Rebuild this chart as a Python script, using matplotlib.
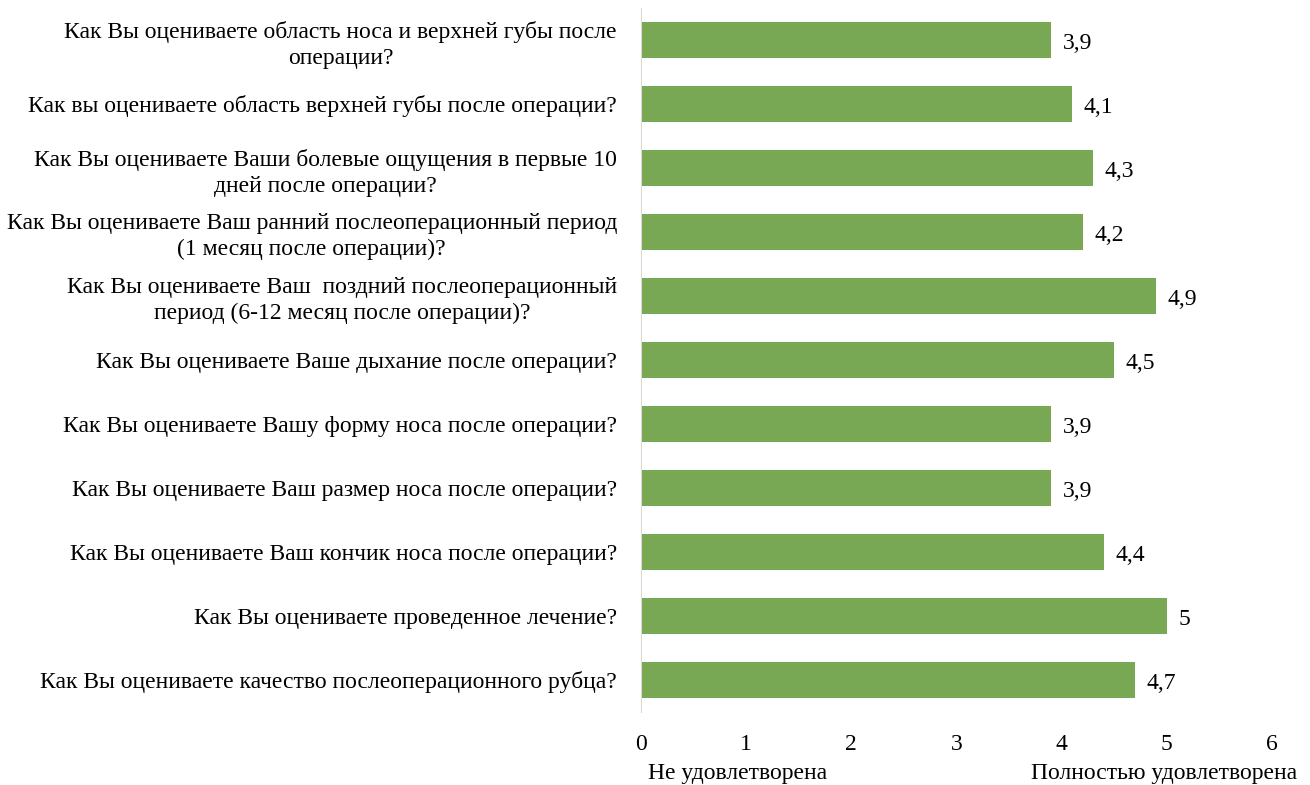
import matplotlib
matplotlib.use("Agg")
import matplotlib.pyplot as plt

plt.rcParams['font.family'] = ['Liberation Serif', 'DejaVu Serif']

questions = [
    "Как Вы оцениваете область носа и верхней губы после\nоперации?",
    "Как вы оцениваете область верхней губы после операции?",
    "Как Вы оцениваете Ваши болевые ощущения в первые 10\nдней после операции?",
    "Как Вы оцениваете Ваш ранний послеоперационный период\n(1 месяц после операции)?",
    "Как Вы оцениваете Ваш  поздний послеоперационный\nпериод (6-12 месяц после операции)?",
    "Как Вы оцениваете Ваше дыхание после операции?",
    "Как Вы оцениваете Вашу форму носа после операции?",
    "Как Вы оцениваете Ваш размер носа после операции?",
    "Как Вы оцениваете Ваш кончик носа после операции?",
    "Как Вы оцениваете проведенное лечение?",
    "Как Вы оцениваете качество послеоперационного рубца?",
]
scores = [3.9, 4.1, 4.3, 4.2, 4.9, 4.5, 3.9, 3.9, 4.4, 5.0, 4.7]
ticks = [0, 1, 2, 3, 4, 5, 6]

fig = plt.figure(figsize=(13.1, 7.85), dpi=100)
ax = fig.add_axes([0.489, 0.093, 0.482, 0.897])

pos = list(range(len(questions)))
ax.barh(pos, scores, height=0.56, color='#79a855')
ax.set_ylim(len(questions) - 0.5, -0.5)
ax.set_xlim(0, 6)

for p, s in zip(pos, scores):
    lbl = f"{s:g}".replace('.', ',')
    ax.text(s + 0.11, p + 0.06, lbl, va='center', ha='left', fontsize=17)

ax.set_yticks(pos)
ax.set_yticklabels(questions, fontsize=17, multialignment='center', linespacing=1.3)
ax.set_xticks(ticks)
ax.set_xticklabels([str(t) for t in ticks], fontsize=17)
ax.tick_params(axis='both', length=0)
ax.tick_params(axis='y', pad=17)
ax.tick_params(axis='x', pad=16)

for side in ['top', 'right', 'bottom']:
    ax.spines[side].set_visible(False)
ax.spines['left'].set_color('#d9d9d9')

fig.text(648 / 1310, 1 - 773 / 785, "Не удовлетворена", ha='left', va='center', fontsize=17)
fig.text(1297 / 1310, 1 - 773 / 785, "Полностью удовлетворена", ha='right', va='center', fontsize=17)

fig.savefig("out.png", dpi=100)
